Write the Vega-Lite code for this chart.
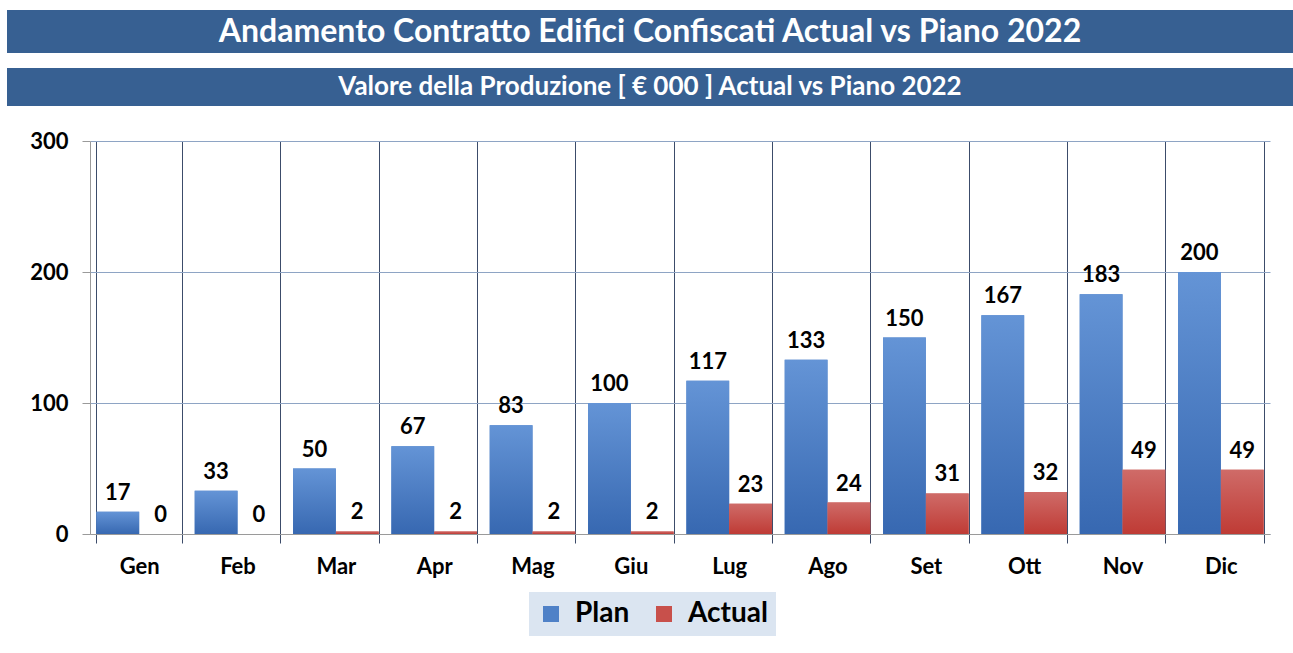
{
  "$schema": "https://vega.github.io/schema/vega-lite/v6.json",
  "padding": {"left": 7, "top": 10, "right": 0, "bottom": 0},
  "background": "white",
  "config": {
    "font": "Lato",
    "view": {"stroke": null}
  },
  "spacing": 24,
  "vconcat": [
    {
      "spacing": 15,
      "vconcat": [
        {
          "width": 1286,
          "height": 43,
          "view": {"fill": "#376092", "stroke": null},
          "data": {"values": [{"t": "Andamento Contratto Edifici Confiscati  Actual vs Piano 2022"}]},
          "mark": {"type": "text", "color": "white", "fontSize": 32, "fontWeight": "bold", "baseline": "middle", "align": "center"},
          "encoding": {"text": {"field": "t", "type": "nominal"}}
        },
        {
          "width": 1286,
          "height": 38,
          "view": {"fill": "#376092", "stroke": null},
          "data": {"values": [{"t": "Valore della Produzione [ € 000 ] Actual vs Piano 2022"}]},
          "mark": {"type": "text", "color": "white", "fontSize": 26, "fontWeight": "bold", "baseline": "middle", "align": "center"},
          "encoding": {"text": {"field": "t", "type": "nominal"}}
        }
      ]
    },
    {
      "spacing": 0,
      "hconcat": [
        {
          "width": 1,
          "height": 1,
          "data": {"values": []},
          "mark": {"type": "text"},
          "encoding": {}
        },
        {
          "width": 1180,
          "height": 393,
          "data": {"values": [
            {"mese": "Gen", "serie": "Plan", "valore": 17},
            {"mese": "Gen", "serie": "Actual", "valore": 0},
            {"mese": "Feb", "serie": "Plan", "valore": 33},
            {"mese": "Feb", "serie": "Actual", "valore": 0},
            {"mese": "Mar", "serie": "Plan", "valore": 50},
            {"mese": "Mar", "serie": "Actual", "valore": 2},
            {"mese": "Apr", "serie": "Plan", "valore": 67},
            {"mese": "Apr", "serie": "Actual", "valore": 2},
            {"mese": "Mag", "serie": "Plan", "valore": 83},
            {"mese": "Mag", "serie": "Actual", "valore": 2},
            {"mese": "Giu", "serie": "Plan", "valore": 100},
            {"mese": "Giu", "serie": "Actual", "valore": 2},
            {"mese": "Lug", "serie": "Plan", "valore": 117},
            {"mese": "Lug", "serie": "Actual", "valore": 23},
            {"mese": "Ago", "serie": "Plan", "valore": 133},
            {"mese": "Ago", "serie": "Actual", "valore": 24},
            {"mese": "Set", "serie": "Plan", "valore": 150},
            {"mese": "Set", "serie": "Actual", "valore": 31},
            {"mese": "Ott", "serie": "Plan", "valore": 167},
            {"mese": "Ott", "serie": "Actual", "valore": 32},
            {"mese": "Nov", "serie": "Plan", "valore": 183},
            {"mese": "Nov", "serie": "Actual", "valore": 49},
            {"mese": "Dic", "serie": "Plan", "valore": 200},
            {"mese": "Dic", "serie": "Actual", "valore": 49}
          ]},
          "encoding": {
            "x": {
              "field": "mese", "type": "nominal",
              "sort": ["Gen","Feb","Mar","Apr","Mag","Giu","Lug","Ago","Set","Ott","Nov","Dic"],
              "scale": {"paddingInner": 0.13, "paddingOuter": 0.065},
              "axis": {
                "title": null, "labelAngle": 0, "tickBand": "extent",
                "grid": true, "gridColor": "#3c4c6a", "gridOpacity": 1,
                "tickColor": "#3c4c6a", "tickSize": 9, "domainColor": "#9a9a9a",
                "labelFontSize": 22, "labelFontWeight": "bold", "labelColor": "black", "labelPadding": 13
              }
            },
            "xOffset": {"field": "serie", "type": "nominal", "sort": ["Plan", "Actual"], "scale": {"domain": ["Plan", "Actual"], "paddingInner": 0, "paddingOuter": 0}},
            "y": {
              "field": "valore", "type": "quantitative",
              "scale": {"domain": [0, 300], "nice": false},
              "axis": {
                "title": null, "values": [0, 100, 200, 300],
                "grid": true, "gridColor": "#8ea4c4", "gridOpacity": 1,
                "tickColor": "#9a9a9a", "tickSize": 8, "domainColor": "#9a9a9a",
                "labelFontSize": 22, "labelFontWeight": "bold", "labelColor": "black", "labelPadding": 14,
                "minExtent": 82, "maxExtent": 82
              }
            }
          },
          "layer": [
            {
              "mark": {"type": "bar"},
              "encoding": {
                "color": {
                  "field": "serie", "type": "nominal",
                  "scale": {"domain": ["Plan", "Actual"], "range": ["#4f81c7", "#c8504b"]},
                  "legend": {
                    "title": null, "orient": "none", "legendX": 522, "legendY": 582, "direction": "horizontal",
                    "symbolType": "square", "symbolSize": 256, "symbolStrokeWidth": 0,
                    "labelFontSize": 28, "labelFontWeight": "bold", "labelColor": "black",
                    "fillColor": "#dbe5f1", "padding": 8, "columnPadding": 20, "labelOffset": 10
                  }
                }
              }
            },
            {
              "transform": [{"filter": "datum.serie === 'Plan'"}],
              "mark": {"type": "bar", "color": {"gradient": "linear", "x1": 0, "y1": 0, "x2": 0, "y2": 1, "stops": [{"offset": 0, "color": "#6494d6"}, {"offset": 1, "color": "#3768b1"}]}}
            },
            {
              "transform": [{"filter": "datum.serie === 'Actual'"}],
              "mark": {"type": "bar", "color": {"gradient": "linear", "x1": 0, "y1": 0, "x2": 0, "y2": 1, "stops": [{"offset": 0, "color": "#cf6b68"}, {"offset": 1, "color": "#bf3b35"}]}}
            },
            {
              "mark": {"type": "text", "baseline": "alphabetic", "dy": -12, "fontSize": 22, "fontWeight": "bold", "color": "black"},
              "encoding": {"text": {"field": "valore", "type": "quantitative"}}
            }
          ]
        }
      ]
    }
  ]
}
